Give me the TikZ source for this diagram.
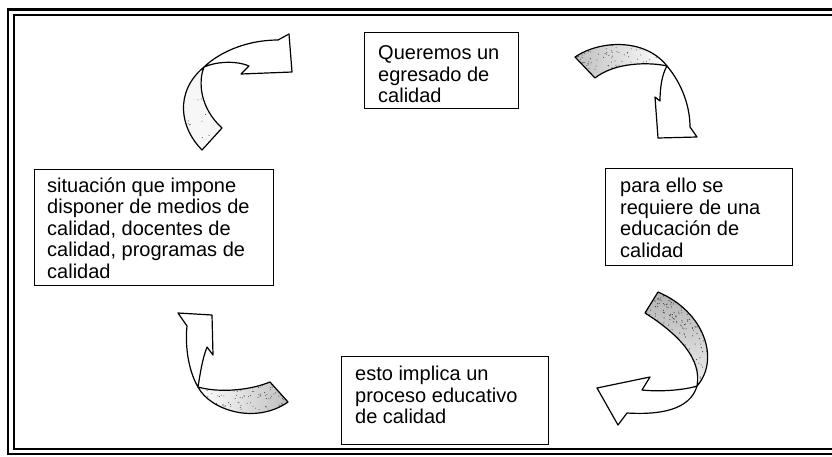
\documentclass[tikz,border=0pt]{standalone}
\usepackage{fontspec}
\setmainfont{Liberation Sans}
\begin{document}
\begin{tikzpicture}[x=1pt,y=-1pt,
  box/.style={draw, line width=1.3pt, inner sep=0pt, anchor=north west},
  txt/.style={anchor=north west, inner sep=0pt, align=left, font=\fontsize{20}{21.6}\selectfont},
  arr/.style={draw, line width=1.2pt, line join=round},
  headpart/.style={arr, fill=white},
  speck/.style={fill=black!75}]
\useasboundingbox (0,0) rectangle (832,456);
\pgfmathsetseed{11}
\begin{scope}
\clip (0,0) rectangle (832,456);
% double frame
\draw[line width=2.6pt] (845,9.5) -- (8,9.5) -- (8,454) -- (845,454);
\draw[line width=1.2pt] (845,15) -- (14,15) -- (14,449) -- (845,449);
\end{scope}

% boxes
\node[box, minimum width=154pt, minimum height=76pt] (b1) at (364,32) {};
\node[box, minimum width=187pt, minimum height=97pt] (b2) at (605,168) {};
\node[box, minimum width=207pt, minimum height=88pt] (b3) at (341,356) {};
\node[box, minimum width=239pt, minimum height=116pt] (b4) at (34,169) {};

% texts
\node[txt] (t1) at (378,45.5) {Queremos un\\egresado de\\calidad};
\node[txt] (t2) at (620,177.8) {para ello se\\requiere de una\\educación de\\calidad};
\node[txt] (t3) at (355,365.8) {esto implica un\\proceso educativo\\de calidad};
\node[txt] (t4) at (47,177.2) {situación que impone\\disponer de medios de\\calidad, docentes de\\calidad, programas de\\calidad};

% tail paths
\def\tailA{(202,150) .. controls (180,128) and (174,92) .. (204,67) .. controls (198,82) and (200,108) .. (222,128) -- cycle}
\def\tailB{(575,57) .. controls (600,40) and (645,38) .. (667,66) .. controls (650,62) and (615,62) .. (595,78) -- cycle}
\def\tailC{(658,292) .. controls (705,312) and (720,360) .. (697,386) .. controls (702,360) and (680,335) .. (645,313) -- cycle}
\def\tailD{(270,382) .. controls (245,392) and (215,392) .. (198,387) .. controls (210,410) and (255,425) .. (288,402) -- cycle}

% arrow 1 (top left)
\coordinate (w1) at (204,67);
\fill[black!3] \tailA;
\begin{scope}
\clip \tailA;
\foreach \i in {1,...,14}{
  \pgfmathsetmacro\xx{176+40*rnd}\pgfmathsetmacro\yy{90+50*rnd}
  \fill[speck] (\xx,\yy) circle[radius=0.5pt];}
\end{scope}
\draw[arr] \tailA;
\path[headpart] (w1) .. controls (222,50) and (250,40) .. (278,40) -- (289,34) -- (292,72)
  -- (241,74) -- (249,66) .. controls (235,60) and (215,62) .. (w1) -- cycle;

% arrow 2 (top right)
\coordinate (w2) at (667,66);
\shade[left color=black!25, right color=white] \tailB;
\begin{scope}
\clip \tailB;
\foreach \i in {1,...,160}{
  \pgfmathsetmacro\xx{575+92*rnd^1.6}\pgfmathsetmacro\yy{38+40*rnd^1.4}
  \fill[speck] (\xx,\yy) circle[radius=0.5pt];}
\end{scope}
\draw[arr] \tailB;
\path[headpart] (w2) .. controls (683,85) and (690,108) .. (690,127) -- (697,137) -- (658,138)
  -- (655,97) -- (660,101) .. controls (660,88) and (662,74) .. (w2) -- cycle;

% arrow 3 (bottom right)
\coordinate (w3) at (697,386);
\shade[top color=black!30, bottom color=black!6] \tailC;
\begin{scope}
\clip \tailC;
\foreach \i in {1,...,380}{
  \pgfmathsetmacro\xx{645+72*rnd}\pgfmathsetmacro\yy{290+96*rnd^1.5}
  \fill[speck] (\xx,\yy) circle[radius=0.55pt];}
\end{scope}
\draw[arr] \tailC;
\path[headpart] (w3) .. controls (685,390) and (660,392) .. (642,390) -- (650,377) -- (597,388)
  -- (618,425) -- (627,413) .. controls (660,415) and (690,410) .. (w3) -- cycle;

% arrow 4 (bottom left)
\coordinate (w4) at (198,387);
\shade[left color=white, right color=black!25] \tailD;
\begin{scope}
\clip \tailD;
\foreach \i in {1,...,170}{
  \pgfmathsetmacro\xx{290-92*rnd^1.5}\pgfmathsetmacro\yy{382+36*rnd}
  \fill[speck] (\xx,\yy) circle[radius=0.5pt];}
\end{scope}
\draw[arr] \tailD;
\path[headpart] (w4) .. controls (188,370) and (185,345) .. (187,326) -- (178,313) -- (212,315)
  -- (213,355) -- (207,347) .. controls (202,360) and (200,375) .. (w4) -- cycle;
\end{tikzpicture}
\end{document}
